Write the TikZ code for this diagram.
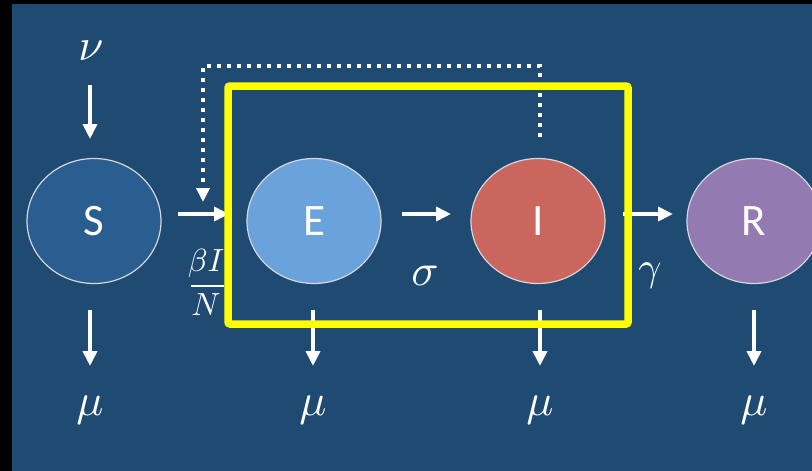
\documentclass[tikz,border=0pt]{standalone}
\usepackage{fontspec}
\setmainfont{Carlito}
\usetikzlibrary{shapes.geometric,arrows.meta,calc}
\definecolor{bg}{HTML}{1F4A72}
\definecolor{scol}{HTML}{2A5E90}
\definecolor{ecol}{HTML}{6AA2DC}
\definecolor{icol}{HTML}{CB665E}
\definecolor{rcol}{HTML}{937AB0}
\definecolor{ring}{HTML}{D6D6DA}
\definecolor{hl}{HTML}{FFFF00}
\tikzset{
  comp/.style={ellipse, draw=ring, line width=1.2pt, minimum width=134pt, minimum height=125pt, inner sep=0pt, text=white, font=\fontsize{45}{45}\selectfont},
  arr/.style={white, line width=4.5pt, -{Triangle[width=14pt,length=15pt]}},
  dotarr/.style={white, line width=4pt, line cap=butt, dash pattern=on 4pt off 6pt, -{Triangle[width=13pt,length=14pt]}},
  greek/.style={text=white, inner sep=0pt, scale=4.5},
  fracl/.style={text=white, inner sep=0pt, scale=3.2},
  yellowbox/.style={draw=hl, line width=7.5pt, rounded corners=2pt}
}
\begin{document}
\begin{tikzpicture}[x=1pt,y=-1pt]
\useasboundingbox (0,0) rectangle (812,471);
\clip (0,0) rectangle (812,471);
\fill[black] (0,0) rectangle (812,471);
\fill[bg] (12,4) rectangle (812,471);

% compartments
\node[comp, fill=scol] (S) at (94,221) {S};
\node[comp, fill=ecol] (E) at (314,221) {E};
\node[comp, fill=icol] (I) at (538,221) {I};
\node[comp, fill=rcol] (R) at (754,221) {R};

% labels
\node[greek] (nu) at (91,51) {$\nu$};
\node[greek] (sigma) at (425,276) {$\sigma$};
\node[greek, scale=0.9] (gamma) at (650,276) {$\gamma$};
\node[fracl] (fnum) at (206,263) {$\beta I$};
\node[fracl] (fden) at (206,305) {$N$};
\draw[white, line width=2.6pt] (191,286) -- (224,286);
\node[greek] (muS) at (90,410) {$\mu$};
\node[greek] (muE) at (313,410) {$\mu$};
\node[greek] (muI) at (540,410) {$\mu$};
\node[greek] (muR) at (754,410) {$\mu$};

% arrow end points
\coordinate (nuA) at (90,85);   \coordinate (nuB) at (90,139);
\coordinate (seA) at (178,214); \coordinate (seB) at (229,214);
\coordinate (eiA) at (402,214); \coordinate (eiB) at (451,214);
\coordinate (irA) at (623,214); \coordinate (irB) at (673,214);
\coordinate (dS) at (90,310); \coordinate (dSb) at (90,366);
\coordinate (dE) at (313,310); \coordinate (dEb) at (313,366);
\coordinate (dI) at (540,310); \coordinate (dIb) at (540,366);
\coordinate (dR) at (754,310); \coordinate (dRb) at (754,366);
\coordinate (fbA) at (540,137); \coordinate (fbB) at (540,66);
\coordinate (fbC) at (203,66);  \coordinate (fbD) at (203,202);

% flows
\draw[arr] (nuA) -- (nuB);
\draw[arr] (seA) -- (seB);
\draw[arr] (eiA) -- (eiB);
\draw[arr] (irA) -- (irB);
\draw[arr] (dS) -- (dSb);
\draw[arr] (dE) -- (dEb);
\draw[arr] (dI) -- (dIb);
\draw[arr] (dR) -- (dRb);

% feedback (dotted)
\draw[dotarr] (fbA) -- (fbB) -- (fbC) -- (fbD);

% yellow box (on top)
\draw[yellowbox] (228,86) rectangle (628,324);
\end{tikzpicture}
\end{document}
